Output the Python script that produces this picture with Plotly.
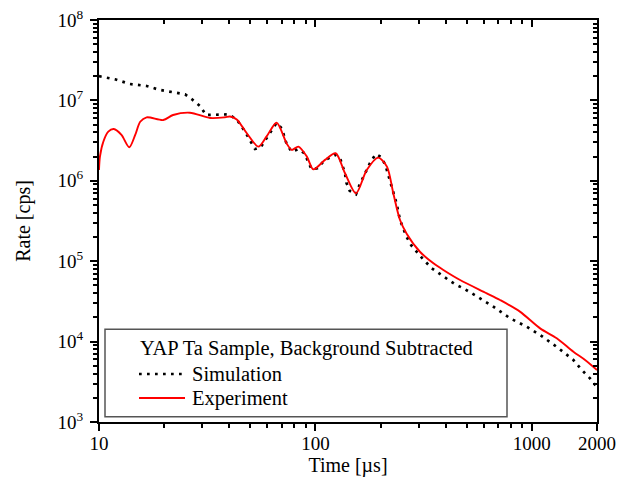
import plotly.graph_objects as go
import numpy as np

# ---- data ----
sim_time = [10, 10.66, 11.86, 13.9, 16.6, 19.1, 22.9, 25.0, 26.8, 29.3, 31.2, 33.7, 36, 39.6,
            43.3, 47.6, 49.9, 52.6, 55.8, 59.4, 66, 69.9, 73.6, 77.7, 83.4, 89, 96, 102,
            110.7, 124, 130, 137, 139, 144, 154, 159.6, 166, 172.6, 180, 190, 202, 211, 219,
            227, 237, 246, 264, 277, 294, 316, 345, 374, 408, 442, 483, 566, 664, 793, 947,
            1111, 1326, 1556, 1702, 1857, 2000]
sim_rate = [2.0e7, 1.94e7, 1.83e7, 1.6e7, 1.51e7, 1.35e7, 1.25e7, 1.19e7, 1.04e7, 8.5e6, 6.58e6,
            6.6e6, 6.7e6, 6.7e6, 5.8e6, 3.97e6, 3.16e6, 2.49e6, 2.61e6, 3.38e6, 5.2e6, 4.5e6,
            2.87e6, 2.3e6, 2.47e6, 2.2e6, 1.39e6, 1.43e6, 1.82e6, 2.1e6, 1.9e6, 1.24e6, 9.5e5,
            7.5e5, 6.8e5, 8.8e5, 1.1e6, 1.36e6, 1.73e6, 2.15e6, 1.96e6, 1.54e6, 1.12e6, 7.8e5,
            5.25e5, 3.25e5, 2.0e5, 1.58e5, 1.31e5, 1.04e5, 8.17e4, 6.93e4, 5.96e4, 5.16e4,
            4.6e4, 3.56e4, 2.72e4, 1.95e4, 1.53e4, 1.17e4, 8.3e3, 5.9e3, 4.43e3, 3.49e3, 2.7e3]

exp_time = [10, 10.1, 10.47, 11.04, 11.7, 12.7, 13.8, 14.7, 15.5, 16.6, 19.8, 22.0, 26.3, 32.6,
            38.2, 40.3, 43.3, 48.2, 54.5, 59.4, 66.2, 73.6, 77.7, 83.4, 91.3, 97.8, 110.7, 124,
            137, 154, 172.6, 195, 214, 229, 246, 264, 304, 351, 390, 466, 619, 713, 881, 1092,
            1303, 1556, 1762, 2000]
exp_rate = [1.36e6, 2.0e6, 3.06e6, 4.08e6, 4.4e6, 3.72e6, 2.61e6, 3.72e6, 5.43e6, 6.16e6, 5.7e6,
            6.58e6, 7.03e6, 6.04e6, 6.16e6, 6.3e6, 5.8e6, 3.9e6, 2.66e6, 3.54e6, 5.28e6, 2.92e6,
            2.42e6, 2.66e6, 2.0e6, 1.39e6, 1.82e6, 2.2e6, 1.24e6, 6.98e5, 1.36e6, 1.94e6, 1.5e6,
            7.0e5, 3.25e5, 2.2e5, 1.31e5, 9.4e4, 7.77e4, 5.83e4, 3.99e4, 3.29e4, 2.36e4, 1.46e4,
            1.1e4, 7.48e3, 5.9e3, 4.43e3]

x_tickvals = [10, 100, 1000, 2000]
x_ticktext = ["10", "100", "1000", "2000"]
x_minor = [20, 30, 40, 50, 60, 70, 80, 90, 200, 300, 400, 500, 600, 700, 800, 900]
y_tickvals = [1e3, 1e4, 1e5, 1e6, 1e7, 1e8]
y_ticktext = ["10<sup>3</sup>", "10<sup>4</sup>", "10<sup>5</sup>", "10<sup>6</sup>",
              "10<sup>7</sup>", "10<sup>8</sup>"]
y_minor = [m * 10 ** e for e in range(3, 8) for m in range(2, 10)]

legend_title = "YAP Ta Sample, Background Subtracted"
sim_name = "Simulation"
exp_name = "Experiment"

FONT = "Liberation Serif, Times New Roman, serif"
SIM_LINE = dict(color="black", width=2.7, dash="2.7px,5.3px")
EXP_LINE = dict(color="#ff0000", width=1.9)

fig = go.Figure()
fig.add_trace(go.Scatter(x=sim_time, y=sim_rate, mode="lines", name=sim_name,
                         line=SIM_LINE, showlegend=False))
fig.add_trace(go.Scatter(x=exp_time, y=exp_rate, mode="lines", name=exp_name,
                         line=dict(**EXP_LINE, shape="spline", smoothing=0.8), showlegend=False))
# helper trace for the mirrored (top/right) axes
fig.add_trace(go.Scatter(x=[], y=[], xaxis="x2", yaxis="y2", showlegend=False, hoverinfo="skip"))

xr = [1, np.log10(2000)]
yr = [3, 8]
common = dict(type="log", showgrid=False, zeroline=False, showline=True, linecolor="black",
              linewidth=2, tickcolor="black", tickwidth=1.5, automargin=False,
              ticklabeloverflow="allow")

# the page body adds an 8px offset; plot area spans window px 99..597 x 20..422
def px(xp):
    return (xp - 99) / 498.0

def py(yp):
    return (422 - yp) / 402.0

annotations = [
    dict(text=legend_title, x=px(138), y=py(348)),
    dict(text=sim_name, x=px(190), y=py(374)),
    dict(text=exp_name, x=px(190), y=py(398)),
]
for a in annotations:
    a.update(xref="paper", yref="paper", xanchor="left", yanchor="middle", showarrow=False,
             font=dict(family=FONT, size=20.5, color="black"))

shapes = [
    dict(type="rect", xref="paper", yref="paper", x0=px(105), x1=px(507), y0=py(416.7),
         y1=py(329.3), line=dict(color="#555555", width=1.5), fillcolor="rgba(0,0,0,0)"),
    dict(type="line", xref="paper", yref="paper", x0=px(139), x1=px(183), y0=py(374),
         y1=py(374), line=SIM_LINE),
    dict(type="line", xref="paper", yref="paper", x0=px(139), x1=px(185), y0=py(398),
         y1=py(398), line=EXP_LINE),
]

fig.update_layout(
    width=616, height=482,
    margin=dict(l=91, r=27, t=12, b=68),
    paper_bgcolor="white", plot_bgcolor="white",
    font=dict(family=FONT, size=19, color="black"),
    showlegend=False,
    xaxis=dict(**common, range=xr, ticks="outside", ticklen=7,
               tickmode="array", tickvals=x_tickvals, ticktext=x_ticktext,
               tickfont=dict(family=FONT, size=19), ticklabelstandoff=-4,
               minor=dict(ticks="outside", ticklen=4, tickwidth=1.5, tickcolor="black",
                          tickmode="array", tickvals=x_minor),
               title=dict(text="Time [µs]", font=dict(family=FONT, size=20), standoff=2)),
    yaxis=dict(**common, range=yr, ticks="outside", ticklen=7,
               tickmode="array", tickvals=y_tickvals, ticktext=y_ticktext,
               tickfont=dict(family=FONT, size=19), ticklabelstandoff=3,
               minor=dict(ticks="outside", ticklen=4, tickwidth=1.5, tickcolor="black",
                          tickmode="array", tickvals=y_minor),
               title=dict(text="Rate [cps]", font=dict(family=FONT, size=20), standoff=22)),
    xaxis2=dict(**common, range=xr, overlaying="x", side="top", anchor="y2",
                ticks="inside", ticklen=7, showticklabels=False,
                tickmode="array", tickvals=x_tickvals,
                minor=dict(ticks="inside", ticklen=4, tickwidth=1.5, tickcolor="black",
                           tickmode="array", tickvals=x_minor)),
    yaxis2=dict(**common, range=yr, overlaying="y", side="right", anchor="x2",
                ticks="inside", ticklen=7, showticklabels=False,
                tickmode="array", tickvals=y_tickvals,
                minor=dict(ticks="inside", ticklen=4, tickwidth=1.5, tickcolor="black",
                           tickmode="array", tickvals=y_minor)),
    annotations=annotations,
    shapes=shapes,
)

fig.write_html("out.html")
